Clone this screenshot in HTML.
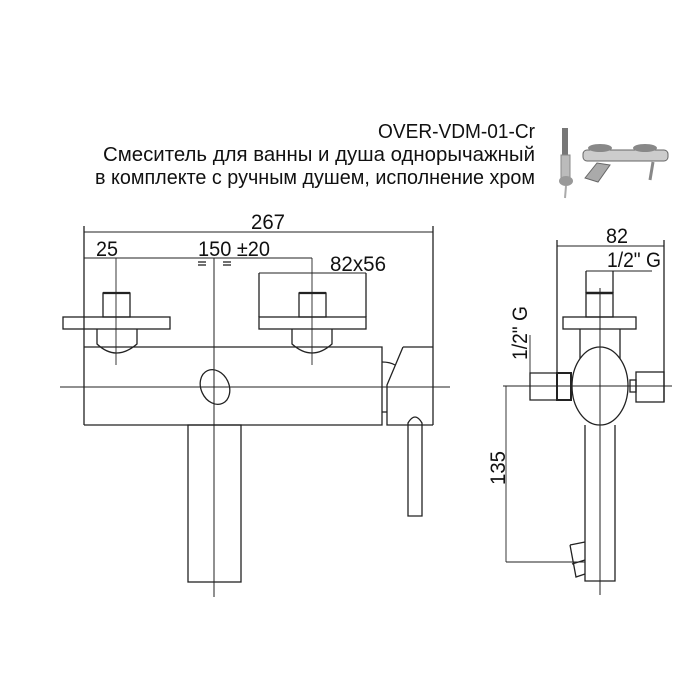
<!DOCTYPE html>
<html><head><meta charset="utf-8"><style>html,body{margin:0;padding:0;background:#fff}svg{display:block}</style></head>
<body>
<svg width="699" height="699" viewBox="0 0 699 699" xmlns="http://www.w3.org/2000/svg" font-family="'Liberation Sans', sans-serif">
<rect width="699" height="699" fill="#fff"/>
<g font-size="20" fill="#111" text-anchor="end">
<text x="535" y="138" textLength="157" lengthAdjust="spacingAndGlyphs">OVER-VDM-01-Cr</text>
<text x="535" y="161" textLength="432" lengthAdjust="spacingAndGlyphs">Смеситель для ванны и душа однорычажный</text>
<text x="535" y="184" textLength="440" lengthAdjust="spacingAndGlyphs">в комплекте с ручным душем, исполнение хром</text>
</g>
<!-- photo -->
<g>
<rect x="562" y="128" width="6" height="28" fill="#777"/>
<rect x="561" y="155" width="9" height="26" fill="#bbb" stroke="#888"/>
<ellipse cx="566" cy="181" rx="7" ry="5" fill="#999"/>
<line x1="566" y1="186" x2="565" y2="198" stroke="#aaa" stroke-width="2"/>
<rect x="583" y="150" width="85" height="11" rx="4" fill="#ccc" stroke="#666"/>
<ellipse cx="600" cy="148" rx="12" ry="4" fill="#888"/>
<ellipse cx="645" cy="148" rx="12" ry="4" fill="#888"/>
<path d="M585 178 L597 163 L610 165 L598 182 Z" fill="#aaa" stroke="#666"/>
<line x1="653" y1="162" x2="650" y2="180" stroke="#888" stroke-width="3"/>
</g>
<g fill="none" stroke="#222" stroke-width="1.3">
<line x1="84" y1="232" x2="433" y2="232" stroke-width="0.9"/>
<line x1="84" y1="226" x2="84" y2="425"/>
<line x1="433" y1="226" x2="433" y2="425"/>
<line x1="84" y1="258" x2="312" y2="258" stroke-width="0.9"/>
<line x1="116" y1="258" x2="116" y2="365" stroke-width="0.9"/>
<line x1="312" y1="258" x2="312" y2="365" stroke-width="0.9"/>
<line x1="214" y1="258" x2="214" y2="597" stroke-width="1"/>
<line x1="259" y1="273" x2="366" y2="273" stroke-width="0.9"/>
<line x1="259" y1="273" x2="259" y2="317"/>
<line x1="366" y1="273" x2="366" y2="317"/>
<line x1="198" y1="262" x2="206" y2="262"/><line x1="198" y1="265" x2="206" y2="265"/>
<line x1="223" y1="262" x2="231" y2="262"/><line x1="223" y1="265" x2="231" y2="265"/>
<rect x="103" y="293" width="27" height="24"/>
<line x1="103" y1="293" x2="130" y2="293" stroke-width="2.2"/>
<rect x="63" y="317" width="107" height="12"/>
<path d="M97 329 V344 Q116 362 137 344 V329"/>
<rect x="299" y="293" width="27" height="24"/>
<line x1="299" y1="293" x2="326" y2="293" stroke-width="2.2"/>
<rect x="259" y="317" width="107" height="12"/>
<path d="M292 329 V344 Q312 362 332 344 V329"/>
<path d="M84 347 H382 V425 H84"/>
<path d="M403 347 H433 M403 347 L387 385 V425 H433"/>
<path d="M382 362 Q390 362 395 365"/>
<line x1="382" y1="412" x2="387" y2="412"/>
<path d="M408 516 V423 Q415 411 422 423 V516 Z"/>
<ellipse cx="215" cy="387" rx="14" ry="18" transform="rotate(-25 215 387)"/>
<line x1="60" y1="387" x2="450" y2="387" stroke-width="1"/>
<rect x="188" y="425" width="53" height="157"/>
<line x1="557" y1="246" x2="664" y2="246" stroke-width="0.9"/>
<line x1="557" y1="240" x2="557" y2="400"/>
<line x1="664" y1="240" x2="664" y2="402"/>
<line x1="586" y1="271" x2="652" y2="271" stroke-width="0.9"/>
<line x1="586" y1="271" x2="586" y2="293"/>
<line x1="613" y1="271" x2="613" y2="293"/>
<rect x="586" y="293" width="27" height="24"/>
<line x1="586" y1="293" x2="613" y2="293" stroke-width="2.5"/>
<rect x="563" y="317" width="73" height="12"/>
<line x1="580" y1="329" x2="580" y2="360"/><line x1="620" y1="329" x2="620" y2="360"/>
<ellipse cx="600" cy="386" rx="28" ry="39" fill="#fff"/>
<line x1="600" y1="288" x2="600" y2="595" stroke-width="1"/>
<line x1="503" y1="386" x2="672" y2="386" stroke-width="1"/>
<path d="M557 373 H530 V400 H557"/>
<rect x="557" y="373" width="14" height="27" stroke-width="2"/>
<line x1="530" y1="335" x2="530" y2="400" stroke-width="0.9"/>
<rect x="636" y="372" width="28" height="30"/>
<rect x="630" y="380" width="6" height="12"/>
<path d="M585 425 V581 H615 V425"/>
<line x1="506" y1="386" x2="506" y2="562" stroke-width="0.9"/>
<line x1="506" y1="562" x2="585" y2="562" stroke-width="0.9"/>
<path d="M570 545 L585 542 M570 545 L576 577 L585 574 M572 564 L585 560"/>
</g>
<g font-size="21" fill="#111">
<text x="268" y="229" text-anchor="middle" textLength="34" lengthAdjust="spacingAndGlyphs">267</text>
<text x="107" y="256" text-anchor="middle" textLength="22" lengthAdjust="spacingAndGlyphs">25</text>
<text x="234" y="256" text-anchor="middle" textLength="72" lengthAdjust="spacingAndGlyphs">150 ±20</text>
<text x="358" y="271" text-anchor="middle" textLength="56" lengthAdjust="spacingAndGlyphs">82x56</text>
<text x="617" y="243" text-anchor="middle" textLength="22" lengthAdjust="spacingAndGlyphs">82</text>
<text x="634" y="267" text-anchor="middle" textLength="54" lengthAdjust="spacingAndGlyphs">1/2" G</text>
<text transform="translate(527 333) rotate(-90)" text-anchor="middle" textLength="54" lengthAdjust="spacingAndGlyphs">1/2" G</text>
<text transform="translate(505 468) rotate(-90)" text-anchor="middle" textLength="34" lengthAdjust="spacingAndGlyphs">135</text>
</g>
</svg>
</body></html>
